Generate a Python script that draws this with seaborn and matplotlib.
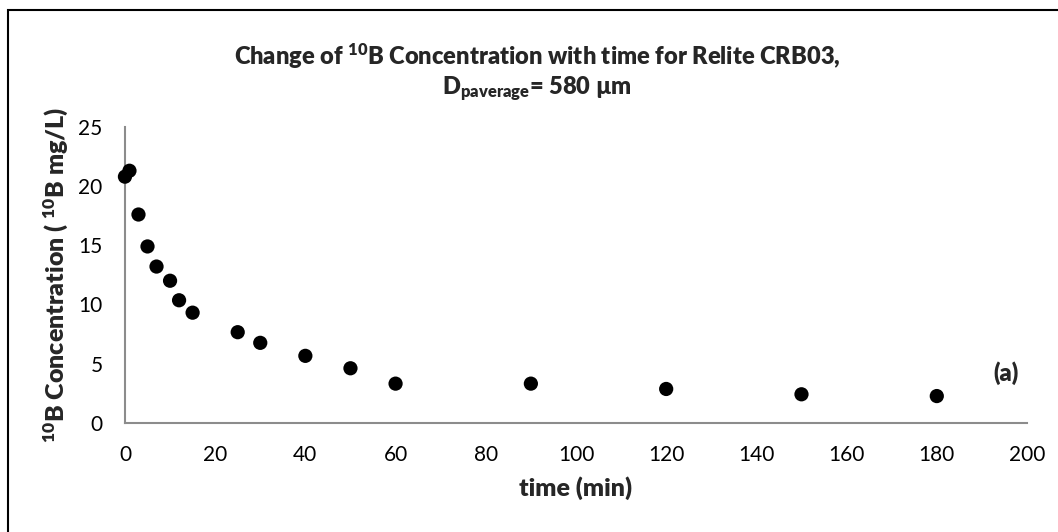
import seaborn as sns
import matplotlib.pyplot as plt
from matplotlib.patches import Rectangle

# time in minutes and 10B concentration in mg/L
time_min = [0, 1, 3, 5, 7, 10, 12, 15, 25, 30, 40, 50, 60, 90, 120, 150, 180]
conc_b10 = [20.8, 21.3, 17.6, 14.9, 13.2, 12.0, 10.35, 9.3, 7.65, 6.75, 5.65, 4.6, 3.3, 3.3, 2.85, 2.4, 2.25]

x_ticks = [0, 20, 40, 60, 80, 100, 120, 140, 160, 180, 200]
y_ticks = [0, 5, 10, 15, 20, 25]

sns.set_style('white')
plt.rcParams['font.family'] = ['Lato', 'DejaVu Sans']
plt.rcParams['mathtext.default'] = 'regular'

fig = plt.figure(figsize=(10.58, 5.32), dpi=100)
ax = fig.add_axes([0.1181, 0.2055, 0.8526, 0.5558])

sns.scatterplot(x=time_min, y=conc_b10, color='black', s=105, edgecolor='none', ax=ax, clip_on=False, zorder=3)

ax.set_xlim(0, 200)
ax.set_ylim(0, 25)
ax.set_xticks(x_ticks)
ax.set_yticks(y_ticks)
ax.tick_params(axis='both', length=0, labelsize=15, colors='black')
ax.tick_params(axis='x', pad=16)
ax.tick_params(axis='y', pad=16)

for s in ['top', 'right']:
    ax.spines[s].set_visible(False)
for s in ['left', 'bottom']:
    ax.spines[s].set_color('#8c8c8c')
    ax.spines[s].set_linewidth(1.5)

ax.set_xlabel('time (min)', fontsize=18, fontweight='heavy', labelpad=8)
ax.set_ylabel('$^{10}$B Concentration ( $^{10}$B mg/L)', fontsize=18, fontweight='heavy', labelpad=6)

fig.text(0.508, 0.864, 'Change of $^{10}$B Concentration with time for Relite CRB03,\nD$_{paverage}$= 580 µm',
         ha='center', va='center', fontsize=17, fontweight='heavy', linespacing=1.2)

ax.text(195.3, 4.2, '(a)', ha='center', va='center', fontsize=17, fontweight='heavy')

# outer chart border (right and bottom fall outside the picture)
fig.add_artist(Rectangle((8 / 1058, -0.5), 2, 0.5 + 1 - 10 / 532, transform=fig.transFigure,
                         fill=False, edgecolor='black', linewidth=1.5))

fig.savefig('out.png', dpi=100)
